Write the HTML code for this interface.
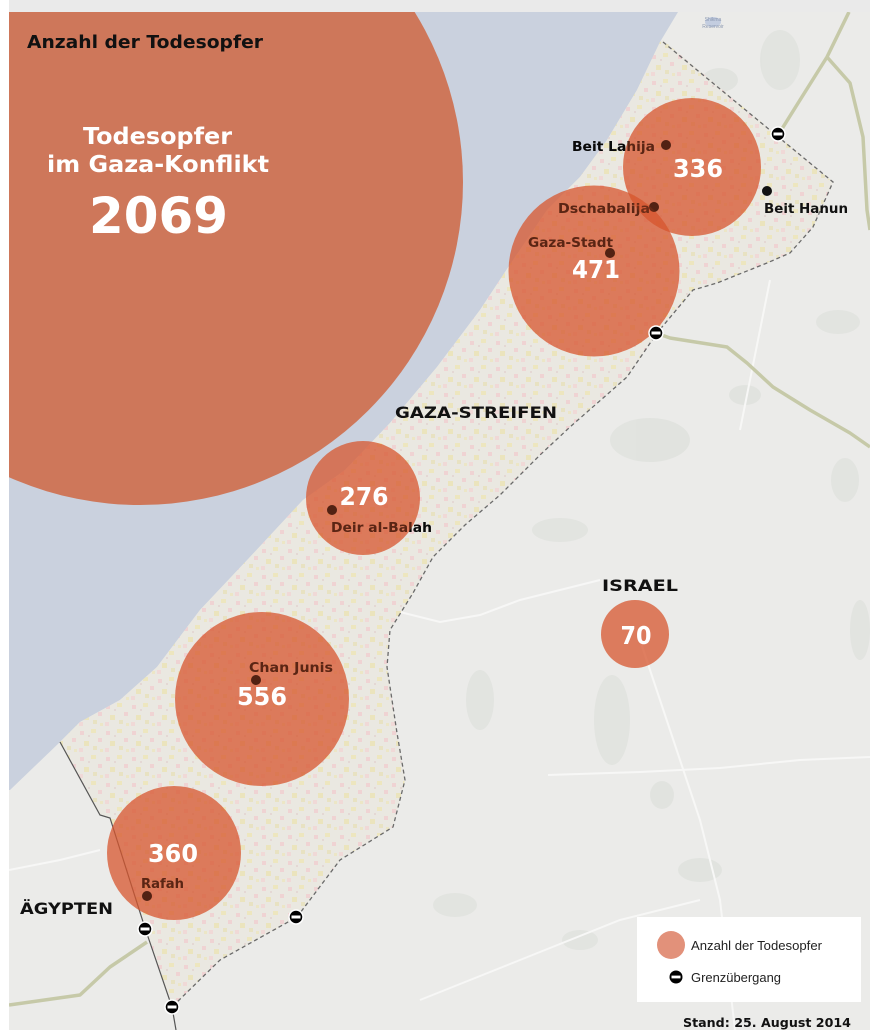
<!DOCTYPE html>
<html><head><meta charset="utf-8">
<style>
html,body{margin:0;padding:0;background:#fff;}
svg{display:block;}
.b{font-family:"DejaVu Sans","Liberation Sans",sans-serif;font-weight:bold;}
.lab{font-family:"DejaVu Sans","Liberation Sans",sans-serif;font-weight:bold;font-size:13.5px;}
.num{font-family:"DejaVu Sans","Liberation Sans",sans-serif;font-weight:bold;font-size:25px;fill:#fff;}
.leg{font-family:"Liberation Sans","DejaVu Sans",sans-serif;font-size:13px;fill:#222;}
</style></head>
<body>
<svg width="870" height="1030" viewBox="0 0 870 1030" xmlns="http://www.w3.org/2000/svg">
<defs>
  <clipPath id="mc"><rect x="9" y="12" width="861" height="1018"/></clipPath>
  <pattern id="tex" width="26" height="26" patternUnits="userSpaceOnUse">
    <rect width="26" height="26" fill="#eae8e1"/>
    <rect x="2" y="3" width="4" height="4" fill="#efd3d3"/>
    <rect x="13" y="1" width="5" height="4" fill="#ede6bf"/>
    <rect x="20" y="10" width="4" height="4" fill="#efd3d3"/>
    <rect x="6" y="13" width="5" height="5" fill="#ebe4bd"/>
    <rect x="15" y="18" width="4" height="4" fill="#e8e2c2"/>
    <rect x="1" y="20" width="4" height="4" fill="#f0d9d7"/>
    <rect x="22" y="21" width="3" height="3" fill="#ece6c6"/>
    <rect x="10" y="7" width="2" height="2" fill="#e4d8d4"/>
  </pattern>
</defs>

<rect x="0" y="0" width="870" height="1030" fill="#ffffff"/>
<rect x="9" y="0" width="861" height="12" fill="#eaeaea"/>

<g clip-path="url(#mc)">
  <!-- land -->
  <rect x="9" y="12" width="861" height="1018" fill="#ebebe9"/>

  <!-- gray patches -->
  <g fill="#dcdfda" opacity="0.6">
    <ellipse cx="650" cy="440" rx="40" ry="22"/>
    <ellipse cx="612" cy="720" rx="18" ry="45"/>
    <ellipse cx="662" cy="795" rx="12" ry="14"/>
    <ellipse cx="838" cy="322" rx="22" ry="12"/>
    <ellipse cx="745" cy="395" rx="16" ry="10"/>
    <ellipse cx="455" cy="905" rx="22" ry="12"/>
    <ellipse cx="780" cy="60" rx="20" ry="30"/>
    <ellipse cx="720" cy="80" rx="18" ry="12"/>
    <ellipse cx="560" cy="530" rx="28" ry="12"/>
    <ellipse cx="480" cy="700" rx="14" ry="30"/>
    <ellipse cx="845" cy="480" rx="14" ry="22"/>
    <ellipse cx="700" cy="870" rx="22" ry="12"/>
    <ellipse cx="580" cy="940" rx="18" ry="10"/>
    <ellipse cx="860" cy="630" rx="10" ry="30"/>
  </g>

  <!-- white roads -->
  <g fill="none" stroke="#f7f7f6" stroke-width="2">
    <polyline points="548,775 640,772 720,768 800,760 870,757"/>
    <polyline points="400,612 440,622 480,615 520,600 560,590 600,580"/>
    <polyline points="770,280 760,330 750,380 740,430"/>
    <polyline points="640,640 660,700 680,760 700,820 720,900 735,1030"/>
    <polyline points="420,1000 520,960 620,920 700,900"/>
    <polyline points="9,870 60,860 100,850"/>
  </g>

  <!-- green roads -->
  <g fill="none" stroke="#c6c9a8" stroke-width="3.5" stroke-linejoin="round">
    <polyline points="849,12 827,57 800,100 780,132"/>
    <polyline points="827,57 850,83 863,137 867,210 870,230"/>
    <polyline points="656,333 670,338 727,347 747,363 773,387 810,410 850,433 870,447"/>
    <polyline points="9,1005 80,995 110,967 147,942"/>
  </g>

  <!-- sea -->
  <polygon fill="#cad1de" points="9,12 678,12 660,42 637,90 607,140 580,177 547,210 513,260 480,310 437,367 390,423 345,470 303,500 250,557 200,610 157,667 120,700 80,722 60,742 10,790 9,790"/>
  <ellipse cx="713" cy="22" rx="8" ry="5" fill="#c3cde0"/>
  <text x="713" y="21" font-family="Liberation Sans, sans-serif" font-size="5" fill="#8b98b0" text-anchor="middle">Shikma</text>
  <text x="713" y="28" font-family="Liberation Sans, sans-serif" font-size="5" fill="#8b98b0" text-anchor="middle">Reservoir</text>

  <!-- Gaza strip -->
  <polygon fill="url(#tex)" points="663,40 660,42 637,90 607,140 580,177 547,210 513,260 480,310 437,367 390,423 345,470 303,500 250,557 200,610 157,667 120,700 80,722 60,742 100,815 110,818 145,928 172,1007 220,960 297,917 340,860 393,827 405,780 397,733 387,667 390,630 413,593 433,557 450,540 465,525 500,495 540,455 570,427 627,377 657,333 693,290 717,283 767,263 790,253 813,227 833,182"/>

  <!-- Egypt border -->
  <polyline fill="none" stroke="#555" stroke-width="1.2" points="60,742 100,815 110,818 145,928 172,1007 176,1030"/>

  <!-- dashed border -->
  <polyline fill="none" stroke="#6a6a6a" stroke-width="1.3" stroke-dasharray="4,3" points="663,42 833,182 813,227 790,253 767,263 717,283 693,290 657,333 627,377 570,427 540,455 500,495 465,525 450,540 433,557 413,593 390,630 387,667 397,733 405,780 393,827 340,860 297,917 220,960 172,1007"/>

  <!-- big circle -->
  <circle cx="140" cy="182" r="323" fill="#ce775a"/>

  <!-- labels under circles -->
  <g class="lab" fill="#111">
    <text x="572" y="151" textLength="83" lengthAdjust="spacingAndGlyphs">Beit Lahija</text>
    <text x="558" y="213" textLength="92" lengthAdjust="spacingAndGlyphs">Dschabalija</text>
    <text x="528" y="247" textLength="85" lengthAdjust="spacingAndGlyphs">Gaza-Stadt</text>
    <text x="331" y="532" textLength="101" lengthAdjust="spacingAndGlyphs">Deir al-Balah</text>
    <text x="249" y="672" textLength="84" lengthAdjust="spacingAndGlyphs">Chan Junis</text>
    <text x="141" y="888" textLength="43" lengthAdjust="spacingAndGlyphs">Rafah</text>
  </g>
  <g fill="#111">
    <circle cx="666" cy="145" r="5"/>
    <circle cx="654" cy="207" r="5"/>
    <circle cx="610" cy="253" r="5"/>
    <circle cx="332" cy="510" r="5"/>
    <circle cx="256" cy="680" r="5"/>
    <circle cx="147" cy="896" r="5"/>
  </g>

  <!-- small circles -->
  <g fill="#d7552d" fill-opacity="0.75">
    <circle cx="692" cy="167" r="69"/>
    <circle cx="594" cy="271" r="85.5"/>
    <circle cx="363" cy="498" r="57"/>
    <circle cx="262" cy="699" r="87"/>
    <circle cx="174" cy="853" r="67"/>
    <circle cx="635" cy="634" r="34"/>
  </g>

  <!-- overlay labels to darken -->
  <g class="lab" fill="#000" fill-opacity="0.45">
    <text x="572" y="151" textLength="83" lengthAdjust="spacingAndGlyphs">Beit Lahija</text>
    <text x="558" y="213" textLength="92" lengthAdjust="spacingAndGlyphs">Dschabalija</text>
    <text x="528" y="247" textLength="85" lengthAdjust="spacingAndGlyphs">Gaza-Stadt</text>
    <text x="331" y="532" textLength="101" lengthAdjust="spacingAndGlyphs">Deir al-Balah</text>
    <text x="249" y="672" textLength="84" lengthAdjust="spacingAndGlyphs">Chan Junis</text>
    <text x="141" y="888" textLength="43" lengthAdjust="spacingAndGlyphs">Rafah</text>
  </g>
  <g fill="#000" fill-opacity="0.5">
    <circle cx="666" cy="145" r="5"/>
    <circle cx="654" cy="207" r="5"/>
    <circle cx="610" cy="253" r="5"/>
    <circle cx="332" cy="510" r="5"/>
    <circle cx="256" cy="680" r="5"/>
    <circle cx="147" cy="896" r="5"/>
  </g>

  <!-- Beit Hanun -->
  <circle cx="767" cy="191" r="5" fill="#111"/>
  <text class="lab" x="764" y="213" fill="#111" textLength="84" lengthAdjust="spacingAndGlyphs">Beit Hanun</text>

  <!-- region labels -->
  <g class="b" font-size="16" fill="#111">
    <text x="395" y="418" textLength="162" lengthAdjust="spacingAndGlyphs">GAZA-STREIFEN</text>
    <text x="602" y="591" textLength="76" lengthAdjust="spacingAndGlyphs">ISRAEL</text>
    <text x="20" y="914" textLength="93" lengthAdjust="spacingAndGlyphs">ÄGYPTEN</text>
  </g>

  <!-- numbers -->
  <g class="num" text-anchor="middle">
    <text x="698" y="177" textLength="50" lengthAdjust="spacingAndGlyphs">336</text>
    <text x="596" y="278" textLength="48" lengthAdjust="spacingAndGlyphs">471</text>
    <text x="364" y="505" textLength="49" lengthAdjust="spacingAndGlyphs">276</text>
    <text x="262" y="705" textLength="50" lengthAdjust="spacingAndGlyphs">556</text>
    <text x="173" y="862" textLength="50" lengthAdjust="spacingAndGlyphs">360</text>
    <text x="636" y="644" textLength="31" lengthAdjust="spacingAndGlyphs">70</text>
  </g>

  <!-- crossings -->
  <g>
    <g transform="translate(778,134)"><circle r="7" fill="#000" stroke="#fff" stroke-width="1.5"/><rect x="-4.5" y="-1.5" width="9" height="3" fill="#fff"/></g>
    <g transform="translate(656,333)"><circle r="7" fill="#000" stroke="#fff" stroke-width="1.5"/><rect x="-4.5" y="-1.5" width="9" height="3" fill="#fff"/></g>
    <g transform="translate(296,917)"><circle r="7" fill="#000" stroke="#fff" stroke-width="1.5"/><rect x="-4.5" y="-1.5" width="9" height="3" fill="#fff"/></g>
    <g transform="translate(145,929)"><circle r="7" fill="#000" stroke="#fff" stroke-width="1.5"/><rect x="-4.5" y="-1.5" width="9" height="3" fill="#fff"/></g>
    <g transform="translate(172,1007)"><circle r="7" fill="#000" stroke="#fff" stroke-width="1.5"/><rect x="-4.5" y="-1.5" width="9" height="3" fill="#fff"/></g>
  </g>

  <!-- big circle text -->
  <text class="b" x="27" y="48" font-size="18" fill="#111" textLength="236" lengthAdjust="spacingAndGlyphs">Anzahl der Todesopfer</text>
  <text class="b" x="83" y="144" font-size="23.5" fill="#fff" textLength="149" lengthAdjust="spacingAndGlyphs">Todesopfer</text>
  <text class="b" x="47" y="172" font-size="23.5" fill="#fff" textLength="222" lengthAdjust="spacingAndGlyphs">im Gaza-Konflikt</text>
  <text class="b" x="89" y="233" font-size="50" fill="#fff" textLength="139" lengthAdjust="spacingAndGlyphs">2069</text>

  <!-- legend -->
  <rect x="637" y="917" width="224" height="85" fill="#ffffff"/>
  <circle cx="671" cy="945" r="14" fill="#e2917a"/>
  <text class="leg" x="691" y="950" textLength="131" lengthAdjust="spacingAndGlyphs">Anzahl der Todesopfer</text>
  <g transform="translate(676,977)"><circle r="6.5" fill="#000"/><rect x="-4.5" y="-1.4" width="9" height="2.8" fill="#fff"/></g>
  <text class="leg" x="691" y="982" textLength="90" lengthAdjust="spacingAndGlyphs">Grenzübergang</text>

  <text class="b" x="683" y="1027" font-size="12.6" fill="#111" textLength="168" lengthAdjust="spacingAndGlyphs">Stand: 25. August 2014</text>
</g>
</svg>
</body></html>
